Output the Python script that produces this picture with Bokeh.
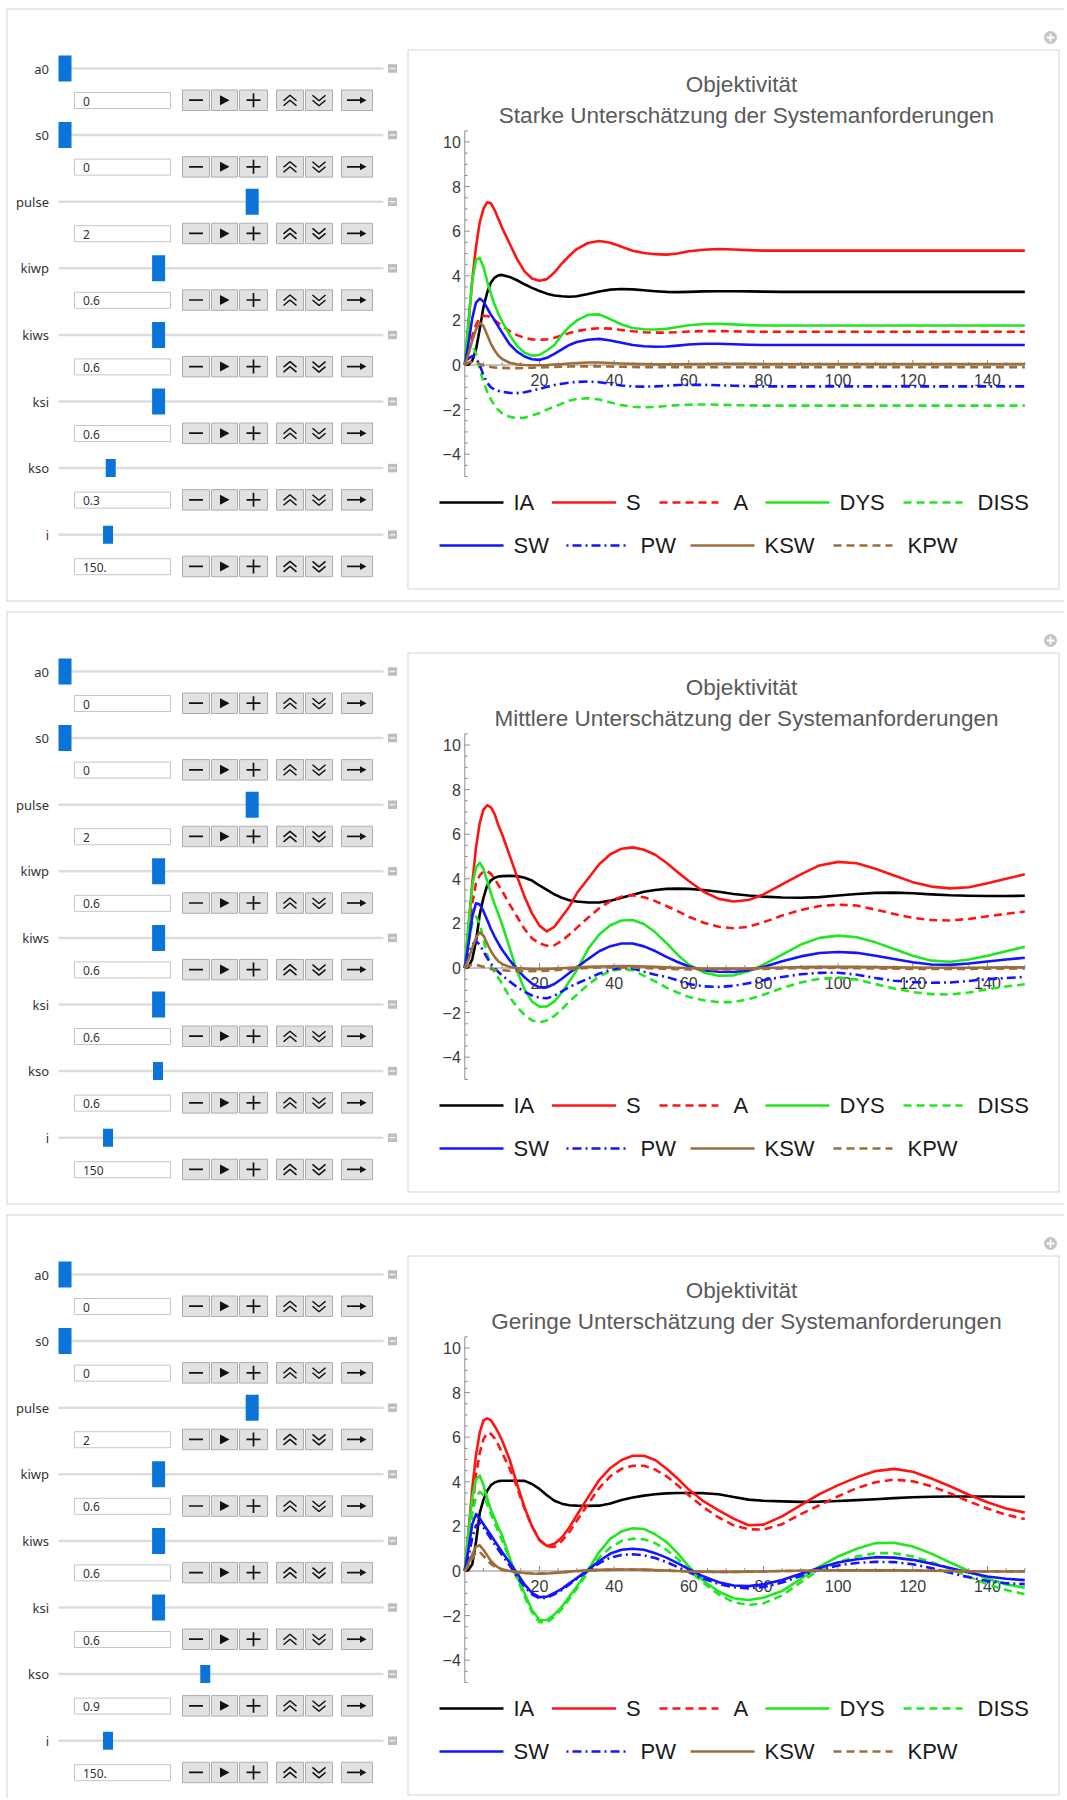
import numpy as np
from bokeh.plotting import figure
from bokeh.models import Range1d
from bokeh.layouts import column
from bokeh.embed import file_html
from bokeh.resources import INLINE
from bokeh.core.properties import value

# ------------------------------------------------------------------ data
T = [0, 1, 2, 3, 4, 5, 6, 7, 8, 9, 10,
     12, 14, 16, 18, 20, 22, 24, 26, 28, 30,
     33, 36, 39, 42, 45, 48, 51, 54, 57, 60,
     64, 68, 72, 76, 80,
     85, 90, 95, 100, 105, 110, 115, 120, 125, 130, 135, 140, 145, 150]

# panel 1: Starke Unterschaetzung
p1_ia = [0, 0.02, 0.2, 0.7, 1.6, 2.6, 3.25, 3.7, 3.92, 4.02, 4.04,
         3.95, 3.8, 3.62, 3.46, 3.32, 3.2, 3.12, 3.08, 3.06, 3.08,
         3.18, 3.3, 3.38, 3.41, 3.39, 3.35, 3.31, 3.28, 3.27, 3.28,
         3.3, 3.31, 3.31, 3.3, 3.29,
         3.28, 3.28, 3.28, 3.28, 3.28, 3.28, 3.28, 3.28, 3.28, 3.28, 3.28, 3.28, 3.28, 3.28]
p1_s = [0, 1.9, 3.8, 5.3, 6.4, 7.0, 7.3, 7.25, 6.95, 6.55, 6.15,
        5.45, 4.75, 4.2, 3.88, 3.78, 3.85, 4.15, 4.55, 4.9, 5.2,
        5.47, 5.56, 5.48, 5.3, 5.12, 5.02, 4.97, 4.95, 5.0, 5.1,
        5.17, 5.2, 5.18, 5.15, 5.13,
        5.13, 5.13, 5.13, 5.13, 5.13, 5.13, 5.13, 5.13, 5.13, 5.13, 5.13, 5.13, 5.13, 5.13]
p1_a = [0, 0.6, 1.3, 1.8, 2.1, 2.2, 2.2, 2.12, 2.0, 1.88, 1.75,
        1.52, 1.34, 1.22, 1.15, 1.13, 1.15, 1.22, 1.32, 1.43, 1.52,
        1.61, 1.65, 1.63, 1.57, 1.51, 1.47, 1.45, 1.45, 1.47, 1.5,
        1.52, 1.52, 1.51, 1.5, 1.49,
        1.49, 1.49, 1.49, 1.49, 1.49, 1.49, 1.49, 1.49, 1.49, 1.49, 1.49, 1.49, 1.49, 1.49]
p1_dys = [0, 2.0, 3.8, 4.7, 4.8, 4.4, 3.75, 3.2, 2.7, 2.3, 1.95,
          1.35, 0.85, 0.55, 0.42, 0.45, 0.65, 0.9, 1.35, 1.72, 2.0,
          2.25, 2.27, 2.05, 1.82, 1.66, 1.6, 1.59, 1.62, 1.7, 1.78,
          1.84, 1.85, 1.82, 1.79, 1.77,
          1.77, 1.77, 1.77, 1.77, 1.77, 1.77, 1.77, 1.77, 1.77, 1.77, 1.77, 1.77, 1.77, 1.77]
p1_diss = [0, 0.8, 0.9, 0.5, -0.2, -0.75, -1.2, -1.55, -1.82, -2.02, -2.16,
           -2.32, -2.38, -2.36, -2.27, -2.15, -2.0, -1.87, -1.73, -1.6, -1.52,
           -1.49, -1.55, -1.68, -1.8, -1.87, -1.9, -1.88, -1.84, -1.8, -1.78,
           -1.77, -1.78, -1.8, -1.81, -1.82,
           -1.82, -1.82, -1.82, -1.82, -1.82, -1.82, -1.82, -1.82, -1.82, -1.82, -1.82, -1.82, -1.82, -1.82]
p1_sw = [0, 1.0, 2.1, 2.8, 2.98, 2.85, 2.55, 2.25, 2.0, 1.72, 1.45,
         0.93, 0.6, 0.38, 0.26, 0.23, 0.32, 0.5, 0.7, 0.9, 1.03,
         1.13, 1.17, 1.1, 1.0, 0.9, 0.84, 0.82, 0.83, 0.87, 0.92,
         0.95, 0.95, 0.93, 0.91, 0.9,
         0.9, 0.9, 0.9, 0.9, 0.9, 0.9, 0.9, 0.9, 0.9, 0.9, 0.9, 0.9, 0.9, 0.9]
p1_pw = [0, 0.3, 0.4, 0.3, 0.0, -0.45, -0.8, -1.0, -1.1, -1.16, -1.2,
         -1.25, -1.26, -1.22, -1.15, -1.07, -0.98, -0.9, -0.84, -0.79, -0.76,
         -0.74, -0.77, -0.85, -0.92, -0.96, -0.97, -0.96, -0.93, -0.9, -0.89,
         -0.89, -0.91, -0.93, -0.95, -0.96,
         -0.96, -0.96, -0.96, -0.96, -0.96, -0.96, -0.96, -0.96, -0.96, -0.96, -0.96, -0.96, -0.96, -0.96]
p1_ksw = [0, 0.5, 1.1, 1.6, 1.9, 1.75, 1.35, 0.95, 0.65, 0.42, 0.27,
          0.1, 0.03, 0.0, -0.01, -0.01, 0.0, 0.02, 0.04, 0.07, 0.09,
          0.11, 0.11, 0.09, 0.07, 0.05, 0.04, 0.03, 0.03, 0.03, 0.04,
          0.04, 0.05, 0.05, 0.05, 0.04,
          0.04, 0.04, 0.04, 0.04, 0.04, 0.04, 0.04, 0.04, 0.04, 0.04, 0.04, 0.04, 0.04, 0.04]
p1_kpw = [0, 0.1, 0.15, 0.12, 0.05, -0.02, -0.06, -0.09, -0.11, -0.12, -0.13,
          -0.14, -0.14, -0.13, -0.12, -0.11, -0.1, -0.09, -0.08, -0.07, -0.06,
          -0.06, -0.06, -0.07, -0.08, -0.09, -0.1, -0.1, -0.1, -0.1, -0.1,
          -0.1, -0.1, -0.1, -0.1, -0.1,
          -0.1, -0.1, -0.1, -0.1, -0.1, -0.1, -0.1, -0.1, -0.1, -0.1, -0.1, -0.1, -0.1, -0.1]

# panel 2: Mittlere Unterschaetzung
p2_ia = [0, 0.05, 0.4, 1.2, 2.4, 3.15, 3.7, 3.93, 4.05, 4.1, 4.12,
         4.13, 4.12, 4.05, 3.92, 3.7, 3.5, 3.3, 3.15, 3.04, 2.98,
         2.94, 2.94, 3.02, 3.15, 3.28, 3.42, 3.5, 3.55, 3.56, 3.55,
         3.5, 3.42, 3.32, 3.25, 3.2,
         3.16, 3.15, 3.18, 3.25, 3.32, 3.37, 3.38, 3.35, 3.3, 3.26, 3.24, 3.23, 3.23, 3.24]
p2_s = [0, 1.8, 3.8, 5.4, 6.5, 7.1, 7.3, 7.2, 6.9, 6.4, 6.0,
        5.05, 4.1, 3.2, 2.45, 1.9, 1.64, 1.85, 2.3, 2.75, 3.35,
        4.0, 4.65, 5.1, 5.35, 5.41, 5.3, 5.08, 4.72, 4.3, 3.9,
        3.42, 3.1, 2.98, 3.05, 3.3,
        3.75, 4.2, 4.6, 4.76, 4.7, 4.45, 4.15, 3.85, 3.65, 3.57, 3.62, 3.8, 4.0, 4.2]
p2_a = [0, 1.5, 2.9, 3.8, 4.15, 4.33, 4.35, 4.22, 4.0, 3.72, 3.45,
        2.85, 2.3, 1.75, 1.33, 1.1, 1.0, 1.02, 1.22, 1.5, 1.8,
        2.25, 2.68, 3.0, 3.2, 3.26, 3.17, 3.0, 2.78, 2.55, 2.3,
        2.03, 1.85, 1.78, 1.85, 2.05,
        2.35, 2.6, 2.78, 2.84, 2.8, 2.62, 2.42, 2.25, 2.15, 2.13, 2.2, 2.32, 2.43, 2.53]
p2_dys = [0, 2.0, 3.7, 4.5, 4.72, 4.45, 3.9, 3.35, 2.85, 2.42, 1.95,
          0.9, -0.15, -0.95, -1.5, -1.73, -1.72, -1.5, -1.1, -0.6, -0.1,
          0.85, 1.5, 1.92, 2.13, 2.15, 1.97, 1.6, 1.12, 0.6, 0.15,
          -0.2, -0.35, -0.33, -0.15, 0.15,
          0.6, 1.05, 1.35, 1.45, 1.38, 1.15, 0.85, 0.55, 0.33, 0.28, 0.38, 0.55, 0.75, 0.95]
p2_diss = [0, 1.2, 2.0, 2.3, 2.0, 1.3, 0.6, 0.1, -0.2, -0.45, -0.7,
           -1.3, -1.75, -2.1, -2.35, -2.44, -2.35, -2.15, -1.85, -1.5, -1.2,
           -0.75, -0.38, -0.13, -0.05, -0.1, -0.35, -0.6, -0.88, -1.1, -1.3,
           -1.45, -1.53, -1.53, -1.4, -1.2,
           -0.9, -0.65, -0.48, -0.43, -0.52, -0.72, -0.92, -1.08, -1.17, -1.19, -1.1, -0.95, -0.83, -0.73]
p2_sw = [0, 1.1, 2.3, 2.9, 2.85, 2.55, 2.15, 1.75, 1.4, 1.1, 0.82,
         0.35, -0.05, -0.42, -0.7, -0.87, -0.86, -0.72, -0.48, -0.22, 0.02,
         0.4, 0.75, 0.98, 1.1, 1.1, 0.97, 0.76, 0.5, 0.27, 0.07,
         -0.1, -0.17, -0.18, -0.1, 0.05,
         0.3, 0.52, 0.67, 0.72, 0.68, 0.55, 0.4, 0.26, 0.16, 0.14, 0.2, 0.29, 0.38, 0.46]
p2_pw = [0, 0.6, 1.05, 1.2, 1.05, 0.75, 0.45, 0.2, 0.0, -0.18, -0.33,
         -0.6, -0.85, -1.07, -1.23, -1.33, -1.36, -1.25, -1.05, -0.85, -0.7,
         -0.48, -0.25, -0.08, 0.0, -0.02, -0.17, -0.3, -0.4, -0.55, -0.72,
         -0.82, -0.85, -0.8, -0.68, -0.55,
         -0.4, -0.28, -0.22, -0.21, -0.3, -0.45, -0.57, -0.63, -0.66, -0.65, -0.58, -0.5, -0.45, -0.4]
p2_ksw = [0, 0.4, 0.9, 1.35, 1.6, 1.45, 1.1, 0.75, 0.5, 0.3, 0.18,
          0.05, 0.0, -0.03, -0.05, -0.05, -0.04, -0.03, -0.01, 0.01, 0.03,
          0.05, 0.07, 0.08, 0.09, 0.09, 0.07, 0.05, 0.03, 0.01, 0.0,
          -0.02, -0.03, -0.03, -0.02, 0.0,
          0.02, 0.04, 0.05, 0.05, 0.05, 0.04, 0.03, 0.02, 0.01, 0.01, 0.01, 0.02, 0.03, 0.03]
p2_kpw = [0, 0.1, 0.15, 0.14, 0.1, 0.05, 0.0, -0.04, -0.07, -0.09, -0.1,
          -0.12, -0.13, -0.14, -0.14, -0.13, -0.12, -0.1, -0.07, -0.05, -0.03,
          0.0, 0.02, 0.03, 0.03, 0.02, 0.0, -0.02, -0.04, -0.05, -0.06,
          -0.07, -0.07, -0.06, -0.05, -0.04,
          -0.02, -0.01, 0.0, 0.0, -0.01, -0.02, -0.03, -0.04, -0.04, -0.04, -0.04, -0.03, -0.03, -0.02]

# panel 3: Geringe Unterschaetzung
p3_ia = [0, 0.05, 0.3, 1.3, 2.6, 3.2, 3.6, 3.85, 3.97, 4.03, 4.05,
         4.05, 4.05, 4.04, 3.9, 3.68, 3.4, 3.15, 3.02, 2.95, 2.93,
         2.92, 2.93, 3.03, 3.18, 3.3, 3.38, 3.44, 3.48, 3.5, 3.5,
         3.49, 3.44, 3.32, 3.2, 3.15,
         3.12, 3.1, 3.11, 3.14, 3.18, 3.22, 3.27, 3.31, 3.33, 3.34, 3.34, 3.34, 3.33, 3.33]
p3_s = [0, 1.8, 3.7, 5.2, 6.2, 6.75, 6.85, 6.75, 6.5, 6.2, 5.85,
        5.0, 3.9, 2.85, 2.0, 1.38, 1.12, 1.22, 1.5, 1.95, 2.5,
        3.3, 4.08, 4.62, 4.98, 5.17, 5.17, 4.98, 4.6, 4.15, 3.65,
        3.12, 2.72, 2.35, 2.05, 2.08,
        2.45, 2.95, 3.45, 3.85, 4.2, 4.48, 4.58, 4.45, 4.15, 3.8, 3.42, 3.08, 2.8, 2.62]
p3_a = [0, 1.2, 2.8, 4.3, 5.3, 5.9, 6.2, 6.15, 5.95, 5.65, 5.3,
        4.6, 3.75, 2.8, 2.0, 1.4, 1.1, 1.08, 1.35, 1.75, 2.25,
        3.0, 3.72, 4.25, 4.58, 4.72, 4.72, 4.55, 4.25, 3.85, 3.4,
        2.85, 2.4, 2.05, 1.87, 1.86,
        2.1, 2.55, 2.95, 3.35, 3.72, 3.98, 4.1, 4.02, 3.8, 3.48, 3.12, 2.8, 2.52, 2.33]
p3_dys = [0, 1.8, 3.3, 4.1, 4.28, 3.85, 3.25, 2.75, 2.35, 1.95, 1.6,
          0.6, -0.25, -1.0, -1.75, -2.2, -2.2, -1.95, -1.6, -1.15, -0.7,
          0.05, 0.85, 1.45, 1.78, 1.92, 1.88, 1.65, 1.3, 0.8, 0.2,
          -0.45, -0.92, -1.22, -1.3, -1.2,
          -0.9, -0.35, 0.2, 0.65, 1.0, 1.25, 1.27, 1.1, 0.78, 0.38, 0.0, -0.35, -0.6, -0.75]
p3_diss = [0, 1.3, 2.6, 3.3, 3.55, 3.4, 3.0, 2.55, 2.15, 1.75, 1.4,
           0.5, -0.35, -1.15, -1.85, -2.3, -2.3, -2.05, -1.7, -1.25, -0.8,
           -0.05, 0.6, 1.05, 1.35, 1.45, 1.42, 1.25, 0.95, 0.55, 0.05,
           -0.55, -1.05, -1.4, -1.53, -1.45,
           -1.1, -0.5, 0.05, 0.4, 0.65, 0.8, 0.8, 0.65, 0.4, 0.1, -0.25, -0.6, -0.85, -1.04]
p3_sw = [0, 1.0, 2.1, 2.55, 2.35, 2.1, 1.85, 1.6, 1.35, 1.1, 0.85,
         0.38, -0.1, -0.6, -0.98, -1.17, -1.15, -0.98, -0.8, -0.55, -0.32,
         0.05, 0.45, 0.78, 0.95, 1.0, 0.95, 0.8, 0.6, 0.35, 0.08,
         -0.25, -0.5, -0.65, -0.68, -0.6,
         -0.4, -0.12, 0.15, 0.38, 0.53, 0.62, 0.6, 0.5, 0.33, 0.13, -0.07, -0.25, -0.35, -0.41]
p3_pw = [0, 0.6, 1.5, 2.05, 2.15, 1.95, 1.7, 1.45, 1.2, 0.95, 0.72,
         0.25, -0.25, -0.7, -1.05, -1.22, -1.2, -1.05, -0.85, -0.6, -0.35,
         0.0, 0.35, 0.6, 0.72, 0.75, 0.7, 0.58, 0.4, 0.18, -0.05,
         -0.35, -0.58, -0.73, -0.78, -0.72,
         -0.52, -0.22, 0.05, 0.25, 0.36, 0.41, 0.4, 0.3, 0.13, -0.08, -0.28, -0.45, -0.55, -0.59]
p3_ksw = [0, 0.35, 0.75, 1.1, 1.15, 0.95, 0.7, 0.45, 0.28, 0.15, 0.08,
          0.0, -0.05, -0.09, -0.11, -0.12, -0.11, -0.09, -0.06, -0.03, 0.0,
          0.03, 0.05, 0.06, 0.07, 0.07, 0.06, 0.04, 0.02, 0.0, -0.02,
          -0.03, -0.04, -0.04, -0.03, -0.02,
          0.0, 0.01, 0.02, 0.03, 0.03, 0.03, 0.03, 0.02, 0.01, 0.0, -0.01, -0.02, -0.02, -0.02]
p3_kpw = [0, 0.25, 0.55, 0.85, 0.85, 0.68, 0.48, 0.32, 0.2, 0.11, 0.05,
          -0.02, -0.06, -0.09, -0.1, -0.11, -0.1, -0.08, -0.06, -0.03, -0.01,
          0.02, 0.04, 0.05, 0.06, 0.06, 0.05, 0.03, 0.02, 0.0, -0.02,
          -0.03, -0.04, -0.04, -0.03, -0.02,
          0.0, 0.01, 0.02, 0.03, 0.03, 0.03, 0.02, 0.02, 0.01, 0.0, -0.01, -0.02, -0.02, -0.02]

SERIES = ["IA", "S", "A", "DYS", "DISS", "SW", "PW", "KSW", "KPW"]
TITLE = "Objektivität"
SUBTITLES = ["Starke Unterschätzung der Systemanforderungen",
             "Mittlere Unterschätzung der Systemanforderungen",
             "Geringe Unterschätzung der Systemanforderungen"]

Y_MAJOR = [-4, -2, 0, 2, 4, 6, 8, 10]
Y_LABELS = ["\u22124", "\u22122", "0", "2", "4", "6", "8", "10"]
X_MAJOR = [20, 40, 60, 80, 100, 120, 140]
X_LABELS = ["20", "40", "60", "80", "100", "120", "140"]

# manipulate controls
PARAMS = ["a0", "s0", "pulse", "kiwp", "kiws", "ksi", "kso", "i"]
PARAM_MIN = [0, 0, -1, 0, 0, 0, 0, 10]
PARAM_MAX = [10, 10, 4, 2, 2, 2, 2, 1000]
p1_par = [0, 0, 2, 0.6, 0.6, 0.6, 0.3, 150]
p2_par = [0, 0, 2, 0.6, 0.6, 0.6, 0.6, 150]
p3_par = [0, 0, 2, 0.6, 0.6, 0.6, 0.9, 150]
p1_par_txt = ["0", "0", "2", "0.6", "0.6", "0.6", "0.3", "150."]
p2_par_txt = ["0", "0", "2", "0.6", "0.6", "0.6", "0.6", "150"]
p3_par_txt = ["0", "0", "2", "0.6", "0.6", "0.6", "0.9", "150."]

PANELS = [
    dict(sub=SUBTITLES[0], data=[p1_ia, p1_s, p1_a, p1_dys, p1_diss, p1_sw, p1_pw, p1_ksw, p1_kpw],
         par=p1_par, txt=p1_par_txt),
    dict(sub=SUBTITLES[1], data=[p2_ia, p2_s, p2_a, p2_dys, p2_diss, p2_sw, p2_pw, p2_ksw, p2_kpw],
         par=p2_par, txt=p2_par_txt),
    dict(sub=SUBTITLES[2], data=[p3_ia, p3_s, p3_a, p3_dys, p3_diss, p3_sw, p3_pw, p3_ksw, p3_kpw],
         par=p3_par, txt=p3_par_txt),
]
for cfg in PANELS:
    for name, arr in zip(SERIES, cfg["data"]):
        if len(arr) != len(T):
            raise ValueError(f"{cfg['sub']} {name}: {len(arr)} values")

# ------------------------------------------------------------------ styles
SER_COLOR = ["#000000", "#ff1414", "#ff1414", "#22e622", "#22e622",
             "#1414ff", "#1414ff", "#9e6d3c", "#9e6d3c"]
SER_DASH = ["solid", "solid", "8 5", "solid", "8 5", "solid", "2 4 9 4", "solid", "8 5"]
LINE_W = 2.6
AXIS_COL = "#8c8c8c"
FONT_PLOT = value("Liberation Sans")
FONT_UI = value("Noto Sans")

# ------------------------------------------------------------------ layout (page pixels)
FIG_W = 1064
PITCH = 603
FIG_H = [603, 603, 592]
PAGE_X0, PAGE_Y0 = 0, 0
T0_PX, PX_PER_T = 464.3, 3.7333     # t = 0 column, pixels per time unit
V0_PX, PX_PER_V = 364.5, 22.3       # value 0 row (panel 1), pixels per value unit
T_MAX = 150
V_MIN, V_MAX = -5, 10.5

ROW_Y0, ROW_DY = 68, 66.6
LABEL_RX = 48.5
TRACK_X0, TRACK_X1 = 58, 383
THUMB_BIG, THUMB_SMALL = (13, 26), (10, 18)
SMALL_THUMB = [False, False, False, False, False, False, True, True]
FIELD_X0, FIELD_X1 = 74, 170
BTN_L = [182, 211, 239, 276, 305, 341]
BTN_R = [209, 237, 267, 303, 332, 372]

LEG_ROWS = [["IA", "S", "A", "DYS", "DISS"], ["SW", "PW", "KSW", "KPW"]]
LEG_X = [[439, 551.5, 659, 765, 903], [439, 566, 690, 833]]
LEG_Y = [502, 545]


def draw_controls(p, oy, par, txt):
    n = len(PARAMS)
    ys = [ROW_Y0 + ROW_DY * i + oy for i in range(n)]
    p.text(x=[LABEL_RX] * n, y=ys, text=PARAMS, text_align="right", text_baseline="middle",
           text_font=FONT_UI, text_font_size="13px", text_color="#333333")
    p.segment(x0=[TRACK_X0] * n, y0=ys, x1=[TRACK_X1] * n, y1=ys,
              line_color="#dddddd", line_width=2.5)
    p.rect(x=[392] * n, y=ys, width=9, height=8.5, fill_color="#bdbdbd", line_color=None)
    p.segment(x0=[389] * n, y0=ys, x1=[395] * n, y1=ys, line_color="#f0f0f0", line_width=1.5)
    cx, tw, th = [], [], []
    for i in range(n):
        w, h = THUMB_SMALL if SMALL_THUMB[i] else THUMB_BIG
        frac = (par[i] - PARAM_MIN[i]) / (PARAM_MAX[i] - PARAM_MIN[i])
        cx.append(TRACK_X0 + w / 2 + frac * (TRACK_X1 - TRACK_X0 - w))
        tw.append(w)
        th.append(h)
    p.rect(x=cx, y=ys, width=tw, height=th, fill_color="#0b74d8", line_color=None)
    p.quad(left=[FIELD_X0] * n, right=[FIELD_X1] * n, top=[y + 24 for y in ys],
           bottom=[y + 40 for y in ys], fill_color="white", line_color="#c6c6c6")
    p.text(x=[82.5] * n, y=[y + 32.5 for y in ys], text=txt, text_baseline="middle",
           text_font=FONT_UI, text_font_size="12px", text_color="#333333")
    bl, br, bt, bb = [], [], [], []
    sx0, sy0, sx1, sy1 = [], [], [], []
    mxs, mys, pxs, pys = [], [], [], []
    for y in ys:
        for l, r in zip(BTN_L, BTN_R):
            bl.append(l); br.append(r); bt.append(y + 21.5); bb.append(y + 42)
        c = y + 31.7
        for a, b, d, e in [(188.5, c, 202.5, c), (246, c, 260, c), (253, c - 7, 253, c + 7),
                           (346.5, c, 361, c)]:
            sx0.append(a); sy0.append(b); sx1.append(d); sy1.append(e)
        pxs += [[219.5, 219.5, 229], [359.5, 359.5, 366]]
        pys += [[c - 5, c + 5, c], [c - 3.5, c + 3.5, c]]
        mxs += [[283, 289.5, 296], [283, 289.5, 296], [312, 318.5, 325], [312, 318.5, 325]]
        mys += [[c + 0.5, c - 5, c + 0.5], [c + 5.5, c, c + 5.5],
                [c - 5, c + 0.5, c - 5], [c, c + 5.5, c]]
    p.quad(left=bl, right=br, top=bt, bottom=bb, fill_color="#e1e1e1", line_color="#adadad")
    p.segment(x0=sx0, y0=sy0, x1=sx1, y1=sy1, line_color="#111111", line_width=1.7)
    p.patches(xs=pxs, ys=pys, fill_color="#111111", line_color=None)
    p.multi_line(xs=mxs, ys=mys, line_color="#111111", line_width=1.5)


def make_panel(k, cfg):
    oy = PITCH * k
    top = PAGE_Y0 + oy
    H = FIG_H[k]
    bot = top + H
    p = figure(width=FIG_W, height=H,
               x_range=Range1d(PAGE_X0, PAGE_X0 + FIG_W), y_range=Range1d(bot, top),
               x_axis_type=None, y_axis_type=None,
               output_backend="svg", toolbar_location=None, min_border=0,
               outline_line_color=None, background_fill_color="white",
               border_fill_color="white")
    zero_y = V0_PX + oy
    p.extra_x_ranges = {"t": Range1d((PAGE_X0 - T0_PX) / PX_PER_T,
                                     (PAGE_X0 + FIG_W - T0_PX) / PX_PER_T)}
    p.extra_y_ranges = {"v": Range1d((zero_y - bot) / PX_PER_V, (zero_y - top) / PX_PER_V)}

    # outer Manipulate frame
    ftop = 8.5 + oy
    fbot = 600.5 + oy
    xl, xr = 6.5, PAGE_X0 + FIG_W
    p.multi_line(xs=[[xl, xr], [xl, xl], [xl, xr]], ys=[[ftop, ftop], [ftop, fbot], [fbot, fbot]],
                 line_color="#d0d0d0", line_width=1)
    p.scatter(x=[1050], y=[37 + oy], marker="circle", size=13, fill_color="#c4c4c4", line_color=None)
    p.segment(x0=[1046, 1050], y0=[37 + oy, 33 + oy], x1=[1054, 1050], y1=[37 + oy, 41 + oy],
              line_color="white", line_width=1.8)
    # graphics box
    p.quad(left=[407.5], right=[1058.5], top=[49.5 + oy], bottom=[588.5 + oy],
           fill_alpha=0, line_color="#d5d5d5")

    draw_controls(p, oy, cfg["par"], cfg["txt"])

    # titles
    p.text(x=[741], y=[84 + oy], text=[TITLE], text_align="center", text_baseline="middle",
           text_font=FONT_PLOT, text_font_size="22.5px", text_color="#5a5a5a")
    p.text(x=[746], y=[115 + oy], text=[cfg["sub"]], text_align="center",
           text_baseline="middle", text_font=FONT_PLOT, text_font_size="22.5px",
           text_color="#5a5a5a")

    # axes through origin
    kw = dict(x_range_name="t", y_range_name="v")
    p.segment(x0=[0, 0], y0=[V_MIN, 0], x1=[0, T_MAX], y1=[V_MAX, 0],
              line_color=AXIS_COL, line_width=1, **kw)
    y_minor = [float(v) for v in np.arange(V_MIN, V_MAX + 1e-9, 0.5)
               if min(abs(v - m) for m in Y_MAJOR) > 1e-9]
    x_minor = [float(t) for t in np.arange(5, T_MAX + 1e-9, 5) if t not in X_MAJOR]
    p.segment(x0=[0] * len(Y_MAJOR), y0=Y_MAJOR, x1=[5 / PX_PER_T] * len(Y_MAJOR), y1=Y_MAJOR,
              line_color=AXIS_COL, line_width=1, **kw)
    p.segment(x0=[0] * len(y_minor), y0=y_minor, x1=[3 / PX_PER_T] * len(y_minor), y1=y_minor,
              line_color=AXIS_COL, line_width=1, **kw)
    p.segment(x0=X_MAJOR, y0=[0] * len(X_MAJOR), x1=X_MAJOR, y1=[5 / PX_PER_V] * len(X_MAJOR),
              line_color=AXIS_COL, line_width=1, **kw)
    p.segment(x0=x_minor, y0=[0] * len(x_minor), x1=x_minor, y1=[3 / PX_PER_V] * len(x_minor),
              line_color=AXIS_COL, line_width=1, **kw)
    p.text(x=[-4 / PX_PER_T] * len(Y_MAJOR), y=Y_MAJOR, text=Y_LABELS, text_align="right",
           text_baseline="middle", text_font=FONT_PLOT, text_font_size="16px",
           text_color="#3a3a3a", **kw)
    p.text(x=X_MAJOR, y=[-14.8 / PX_PER_V] * len(X_MAJOR), text=X_LABELS, text_align="center",
           text_baseline="middle", text_font=FONT_PLOT, text_font_size="16px",
           text_color="#3a3a3a", **kw)

    # curves
    for vals, col, dash in zip(cfg["data"], SER_COLOR, SER_DASH):
        p.line(x=T, y=vals, line_color=col, line_width=LINE_W, line_dash=dash,
               line_join="round", **kw)

    # legend
    lt_x, lt_y, lt_t = [], [], []
    for r, names in enumerate(LEG_ROWS):
        ly = LEG_Y[r] + oy
        for name, x0 in zip(names, LEG_X[r]):
            i = SERIES.index(name)
            length = 64 if SER_DASH[i] == "solid" else 59
            p.line(x=[x0, x0 + length], y=[ly, ly], line_color=SER_COLOR[i], line_width=LINE_W,
                   line_dash=SER_DASH[i])
            lt_x.append(x0 + 74); lt_y.append(ly); lt_t.append(name)
    p.text(x=lt_x, y=lt_y, text=lt_t, text_baseline="middle", text_font=FONT_PLOT,
           text_font_size="22px", text_color="#1a1a1a")
    return p


figs = [make_panel(k, cfg) for k, cfg in enumerate(PANELS)]
layout = column(*figs, spacing=0)
open("out.html", "w").write(file_html(layout, INLINE, title="Objektivität"))
